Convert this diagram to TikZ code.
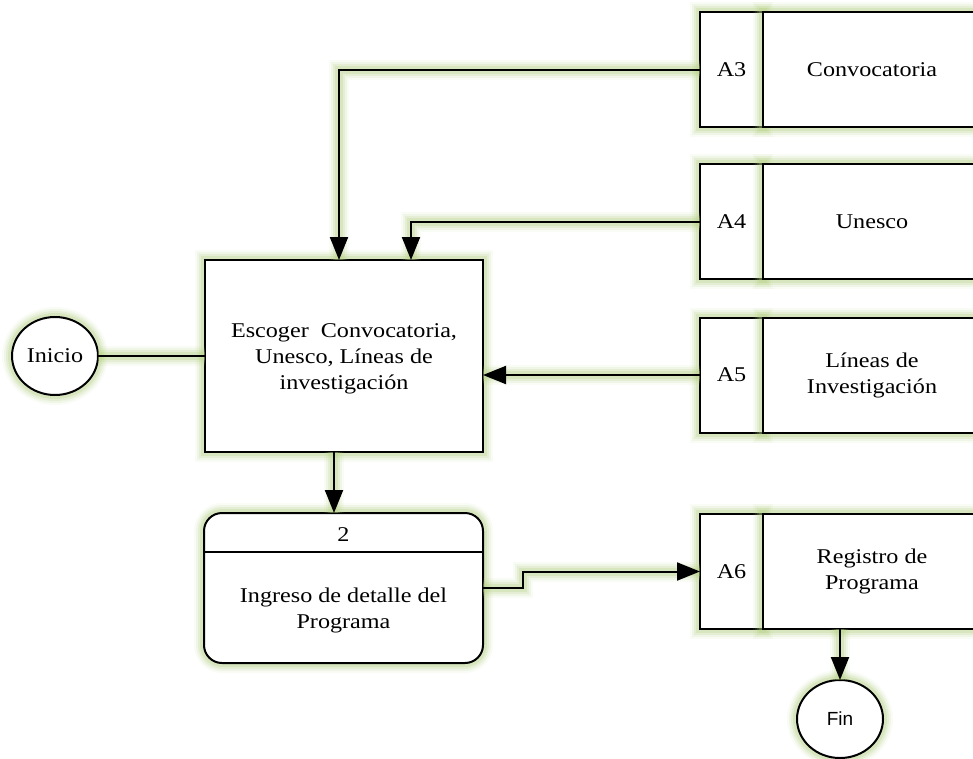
\documentclass[tikz,border=0pt]{standalone}
\usepackage{fontspec}
\setmainfont[FakeStretch=1.15]{Liberation Serif}
\newfontfamily\labelsans{Liberation Sans}
\usetikzlibrary{arrows.meta,calc,positioning,shapes.geometric}
\definecolor{glowgreen}{RGB}{178,206,128}
\tikzset{
  halo/.style={
    preaction={draw=glowgreen,line width=20pt,opacity=0.08,arrows=-},
    preaction={draw=glowgreen,line width=16pt,opacity=0.12,arrows=-},
    preaction={draw=glowgreen,line width=12pt,opacity=0.18,arrows=-},
    preaction={draw=glowgreen,line width=8pt,opacity=0.25,arrows=-}},
  txt/.style={font=\fontsize{21}{26}\selectfont,align=center},
  box/.style={txt,draw=black,line width=2pt,fill=white,outer sep=0pt,inner sep=2pt,halo},
  proc/.style={box,minimum width=278pt,minimum height=192pt},
  rproc/.style={box,rounded corners=18pt,minimum width=279pt,minimum height=150pt},
  idcell/.style={box,minimum width=63pt,minimum height=115pt},
  namecell/.style={box,minimum width=218pt,minimum height=115pt},
  terminal/.style={box,ellipse,minimum width=86pt,minimum height=78pt,inner sep=0pt},
  flow/.style={draw=black,line width=2pt,halo,-{Triangle[length=23pt,width=18pt]}},
  link/.style={draw=black,line width=2pt,halo},
}
\begin{document}
\begin{tikzpicture}[x=1pt,y=-1pt]
\useasboundingbox (0,0) rectangle (973,758);
\clip (0,0) rectangle (973,758);

% main processes
\node[proc] (p1) at (344,356) {};
\node[txt] (p1txt) at (344,359) {Escoger\ \ Convocatoria,\\Unesco, Líneas de\\investigación};
\node[rproc] (p2) at (343.5,588) {};
\draw[line width=2pt] ($(p2.north west)+(0,39)$) -- ($(p2.north east)+(0,39)$);
\node[txt] (p2num) at (343.5,535) {2};
\node[txt] (p2txt) at (343.5,610) {Ingreso de detalle del\\Programa};

% start and end
\node[terminal] (ini) at (55,356) {Inicio};
\node[terminal,font=\labelsans\fontsize{19}{23}\selectfont] (fin) at (840,719) {Fin};

% data stores
\node[idcell] (a3) at (731.5,69.5) {A3};
\node[namecell,right=0pt of a3] (a3n) {Convocatoria};
\node[idcell] (a4) at (731.5,221.5) {A4};
\node[namecell,right=0pt of a4] (a4n) {Unesco};
\node[idcell] (a5) at (731.5,375) {A5};
\node[namecell,right=0pt of a5] (a5n) {Líneas de\\Investigación};
\node[idcell] (a6) at (731.5,571.5) {A6};
\node[namecell,right=0pt of a6] (a6n) {Registro de\\Programa};

% flows
\draw[link] (ini.east) -- (ini.east -| p1.west);
\draw[flow] (a3.west) -| ([xshift=-5pt]p1.north);
\draw[flow] (a4.west) -| ([xshift=67pt]p1.north);
\draw[flow] (a5.west) -- (a5.west -| p1.east);
\draw[flow] ([xshift=-10pt]p1.south) -- ([xshift=-10pt]p1.south |- p2.north);
\draw[flow] (p2.east) -- ++(40,0) |- (a6.west);
\draw[flow] (fin.north |- a6n.south) -- (fin.north);
\end{tikzpicture}
\end{document}
